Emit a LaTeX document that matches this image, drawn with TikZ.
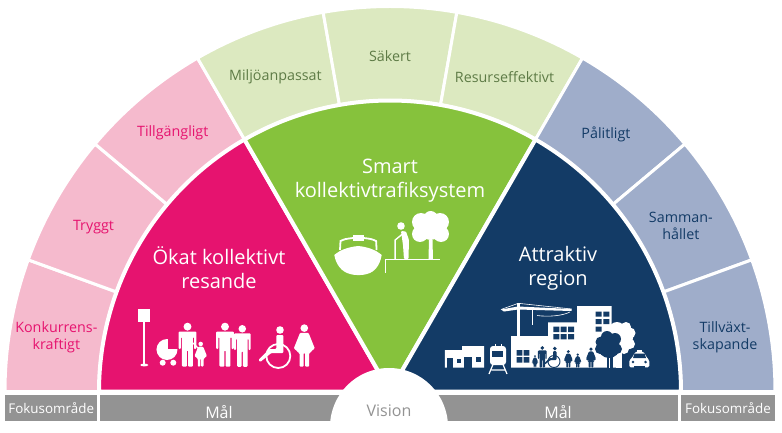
\documentclass[tikz,border=0pt]{standalone}
\usepackage{fontspec}
\setmainfont{Open Sans}
\definecolor{pinkdark}{HTML}{E6136F}
\definecolor{pinklight}{HTML}{F5BACD}
\definecolor{greendark}{HTML}{86C23C}
\definecolor{greenlight}{HTML}{DCE9C0}
\definecolor{greentxt}{HTML}{5E7B46}
\definecolor{navydark}{HTML}{133B66}
\definecolor{navylight}{HTML}{9FADCA}
\definecolor{bargray}{HTML}{939393}
\newcommand{\Rin}{291pt}
\newcommand{\Rout}{385pt}
\tikzset{
  wedgepart/.style={draw=white,line width=4pt},
  ringpart/.style={draw=white,line width=3pt},
  bigtext/.style={text=white,font=\fontsize{20}{24}\selectfont,align=center},
  pinktext/.style={text=pinkdark,font=\fontsize{14.3}{17}\selectfont,align=center},
  greentext/.style={text=greentxt,font=\fontsize{14.3}{17}\selectfont,align=center},
  navytext/.style={text=navydark,font=\fontsize{14.3}{17}\selectfont,align=center},
  bartext/.style={text=white,font=\fontsize{16}{18}\selectfont},
  fokustext/.style={text=white,fill=bargray,minimum height=26pt,inner sep=0pt,font=\fontsize{13.4}{14}\selectfont}
}
\newcommand{\ringseg}[3]{\draw[ringpart,fill=#3] (#1:\Rin) arc[start angle=#1,end angle=#2,radius=\Rin] -- (#2:\Rout) arc[start angle=#2,end angle=#1,radius=\Rout] -- cycle;}
\newcommand{\wedgeseg}[3]{\draw[wedgepart,fill=#3] (0,0) -- (#1:\Rin) arc[start angle=#1,end angle=#2,radius=\Rin] -- cycle;}
\newcommand{\manfig}[4]{\begin{scope}[shift={(#1,#2)},scale=#3]
\fill[#4] (0,3.6) circle (3.6);
\fill[#4,rounded corners=1pt] (-8,8) -- (8,8) -- (8,24) -- (6,24) -- (6,13) -- (5,13) -- (5,40) -- (0.6,40) -- (0.6,25) -- (-0.6,25) -- (-0.6,40) -- (-5,40) -- (-5,13) -- (-6,13) -- (-6,24) -- (-8,24) -- cycle;
\end{scope}}
\newcommand{\womanfig}[4]{\begin{scope}[shift={(#1,#2)},scale=#3]
\fill[#4] (0,3.6) circle (3.6);
\fill[#4,rounded corners=1pt] (-4,8) -- (4,8) -- (10,23) -- (8,24) -- (5.5,27) -- (4.5,27) -- (4.5,40) -- (0.7,40) -- (0.7,27) -- (-0.7,27) -- (-0.7,40) -- (-4.5,40) -- (-4.5,27) -- (-5.5,27) -- (-8,24) -- (-10,23) -- cycle;
\end{scope}}
\newcommand{\chairfig}[4]{\begin{scope}[shift={(#1,#2)},scale=#3]
\draw[#4,line width=#3*1.8pt] (0,0) circle (12);
\fill[#4] (1.7,-26) circle (3.8);
\fill[#4,rounded corners=1pt] (-2,-21) -- (5,-21) -- (5,-3) -- (-7,-3) -- (-18,6) -- (-20,4) -- (-9,-7) -- (-2,-7) -- cycle;
\end{scope}}

\begin{document}
\begin{tikzpicture}[x=1pt,y=1pt]
\useasboundingbox (-390,-40.5) rectangle (392,391.5);
%outer ring
\ringseg{160}{180}{pinklight}
\ringseg{140}{160}{pinklight}
\ringseg{120}{140}{pinklight}
\ringseg{100}{120}{greenlight}
\ringseg{80}{100}{greenlight}
\ringseg{60}{80}{greenlight}
\ringseg{40}{60}{navylight}
\ringseg{20}{40}{navylight}
\ringseg{0}{20}{navylight}
%wedges
\wedgeseg{120}{180}{pinkdark}
\wedgeseg{60}{120}{greendark}
\wedgeseg{0}{60}{navydark}
%bars
\fill[bargray] (-290,-3.5) rectangle (288,-29.5);
\node[fokustext,minimum width=92.5pt] (fokusleft) at (-338.75,-16.5) {Fokusområde};
\node[fokustext,minimum width=94.5pt] (fokusright) at (338,-16.5) {Fokusområde};
\fill[white] (-1,-35.5) circle (59);
\fill[white] (-60,-29.5) rectangle (60,-40.5);
\node[bartext] (malleft) at (-171,-20.5) {Mål};
\node[bartext] (malright) at (168,-20.5) {Mål};
\node[bartext,text=bargray] (vision) at (-1,-19.5) {Vision};
%ring labels
\node[pinktext] (konkurrens) at (170.8:338) {Konkurrens-\\kraftigt};
\node[pinktext] (tryggt) at (151:339) {Tryggt};
\node[pinktext] (tillganglig) at (130:338) {Tillgängligt};
\node[greentext] (miljo) at (110:335) {Miljöanpassat};
\node[greentext] (sakert) at (90:335) {Säkert};
\node[greentext] (resurs) at (70:335) {Resurseffektivt};
\node[navytext] (palitligt) at (50:336) {Pålitligt};
\node[navytext] (samman) at (29.6:334.5) {Samman-\\hållet};
\node[navytext] (tillvaxt) at (9.2:339.4) {Tillväxt-\\skapande};
%wedge labels
\node[bigtext] (okat) at (-171,124) {Ökat kollektivt\\resande};
\node[bigtext] (smart) at (0,211) {Smart\\kollektivtrafiksystem};
\node[bigtext] (attraktiv) at (168,123) {Attraktiv\\region};
%icons in picture pixels
\begin{scope}[shift={(-390,391.5)},x=1pt,y=-1pt]
%pink
\fill[white] (138.3,309.3) rectangle (150,321.7);
\fill[white] (143.4,321) rectangle (145.2,365);
\fill[white] (144.3,365) ellipse (4 and 1.4);
\fill[white] (167,349.5) circle (10.5);
\fill[pinkdark] (167.8,349) rectangle (180,336);
\fill[white] (162.7,362.7) circle (3);
\fill[white] (173.3,362.7) circle (3);
\manfig{187.5}{322.7}{1.1}{white}
\womanfig{200.7}{341.7}{0.625}{white}
\draw[white,line width=1.4pt] (199,349) -- (193,343);
\manfig{225}{322.7}{1.1}{white}
\manfig{242.3}{325}{1.045}{white}
\chairfig{278.3}{356}{1}{white}
\womanfig{304.3}{324.3}{1.06}{white}
%green
\fill[white] (358.3,246) .. controls (348,247) and (340,250) .. (334.3,255) .. controls (336,265) and (342,272) .. (350,274) .. controls (355,275.5) and (362,275.5) .. (367,274) .. controls (375,272) and (380,265) .. (381.7,255) .. controls (376,250) and (368,247) .. (358.3,246) -- cycle;
\draw[white,line width=1.8pt] (340,250) -- (340.5,241) .. controls (345,239) .. (353,238);
\draw[white,line width=1.8pt] (376.6,250) -- (376.1,241) .. controls (371.6,239) .. (363.6,238);
\fill[white] (353,235) rectangle (363.6,241);
\draw[white,line width=1pt] (440,259) -- (385.7,259) -- (385.7,273.3);
\fill[white] (401,226) circle (3.8);
\fill[white,rounded corners=1pt] (401,231) -- (406,231.5) -- (409,240) -- (408.5,259) -- (404,259) -- (403,245) -- (402,238) -- cycle;
\draw[white,line width=1.4pt] (402.5,234) -- (395.2,240) -- (395.2,259);
\fill[white] (430.7,228) circle (12) (421,222) circle (9) (440,222) circle (9) (420,234) circle (8) (441,234) circle (8) (430.7,218) circle (7);
\fill[white] (429,240) -- (432.5,240) -- (433,259) -- (428.5,259) -- cycle;
%navy
\fill[white] (445,350) -- (462,350) -- (462,346) -- (484,346) -- (484,367.7) -- (445,367.7) -- cycle;
\fill[navydark] (447.3,358) rectangle (452.7,367.7);
\fill[navydark] (456.7,359.3) rectangle (460.7,363.3);
\fill[navydark] (464,357.3) rectangle (471.7,367.7);
\fill[navydark] (476,357.3) rectangle (480.7,362.3);
\fill[white,rounded corners=3pt] (490,346) rectangle (506,365);
\fill[navydark] (491.7,350.7) rectangle (503.3,356.7);
\draw[white,line width=1.2pt] (494,362) -- (489,374) (502,362) -- (507,374) (491.5,370) -- (504.5,370);
\draw[white,line width=.8pt] (495,346) -- (495,344) (501,346) -- (501,344);
\fill[white] (511,336) -- (548,336) -- (548,322.3) -- (577,322.3) -- (577,306) -- (611.7,306) -- (611.7,340) -- (620.7,340) -- (620.7,367.7) -- (511,367.7) -- cycle;
\fill[navydark] (516.7,350) rectangle (522.4,355.6) (523.6,350) rectangle (529.3,355.6) (516.7,357) rectangle (522.4,362.7) (523.6,357) rectangle (529.3,362.7);
\fill[navydark] (553.3,326.7) rectangle (559.3,332) (560.7,326.7) rectangle (566.7,332) (568,326.7) rectangle (574,332) (553.3,334) rectangle (559.3,339.3) (560.7,334) rectangle (566.7,339.3) (568,334) rectangle (574,339.3);
\fill[navydark] (595.7,311.7) rectangle (601.7,316.7) (603.3,311.7) rectangle (609.3,316.7) (595.7,319.2) rectangle (601.7,324.2) (603.3,319.2) rectangle (609.3,324.2) (595.7,326.7) rectangle (601.7,331.7);
%crane
\fill[white] (517,303.3) rectangle (519.6,336);
\fill[white] (501,309.5) -- (518,306.5) -- (571.7,309) -- (571.7,311) -- (518,309.5) -- (504,311.5) -- cycle;
\draw[white,line width=.6pt] (501,309.5) -- (518.3,303.3) -- (571.7,309);
\draw[white,line width=.6pt] (537,315.5) .. controls (548,317) and (562,316) .. (570,312);
\draw[white,line width=1pt] (532.3,310) -- (532.3,325);
%people on the building
\womanfig{535}{355}{0.31}{navydark}
\manfig{542.3}{346}{0.54}{navydark}
\chairfig{554}{361.5}{0.5}{navydark}
\womanfig{568.3}{350}{0.44}{navydark}
\womanfig{577.7}{353.3}{0.36}{navydark}
\womanfig{591}{347.3}{0.51}{navydark}
%trees and taxi
\fill[white] (624,338) circle (9) (630,333) circle (5.5) (617,330) circle (8) (626,327) circle (5) (630,344) circle (5) (624,349) circle (5);
\fill[white] (616,340) rectangle (621.5,367.7);
\fill[navydark] (609,347) circle (11) (601,342) circle (5.5) (615,339) circle (6) (607,337) circle (6) (600,349) circle (5) (617,349) circle (5);
\fill[navydark] (606.5,352) rectangle (612.5,367.7);
\fill[white] (608.6,358) rectangle (610.2,367.7);
\fill[white,rounded corners=1.5pt] (634,354) -- (636,351.5) -- (643,351.5) -- (645,354) -- (647,358) -- (649.3,360) -- (649.3,367.3) -- (629.3,367.3) -- (629.3,360) -- (632,358) -- cycle;
\fill[white] (637,350) rectangle (642,352);
\fill[navydark] (634.5,353.5) -- (644.5,353.5) -- (646,358) -- (633,358) -- cycle;
\fill[navydark] (633,362) circle (1.4) (645.6,362) circle (1.4);
\fill[navydark] (634,365.6) rectangle (645,367.5);
\end{scope}
\end{tikzpicture}
\end{document}
